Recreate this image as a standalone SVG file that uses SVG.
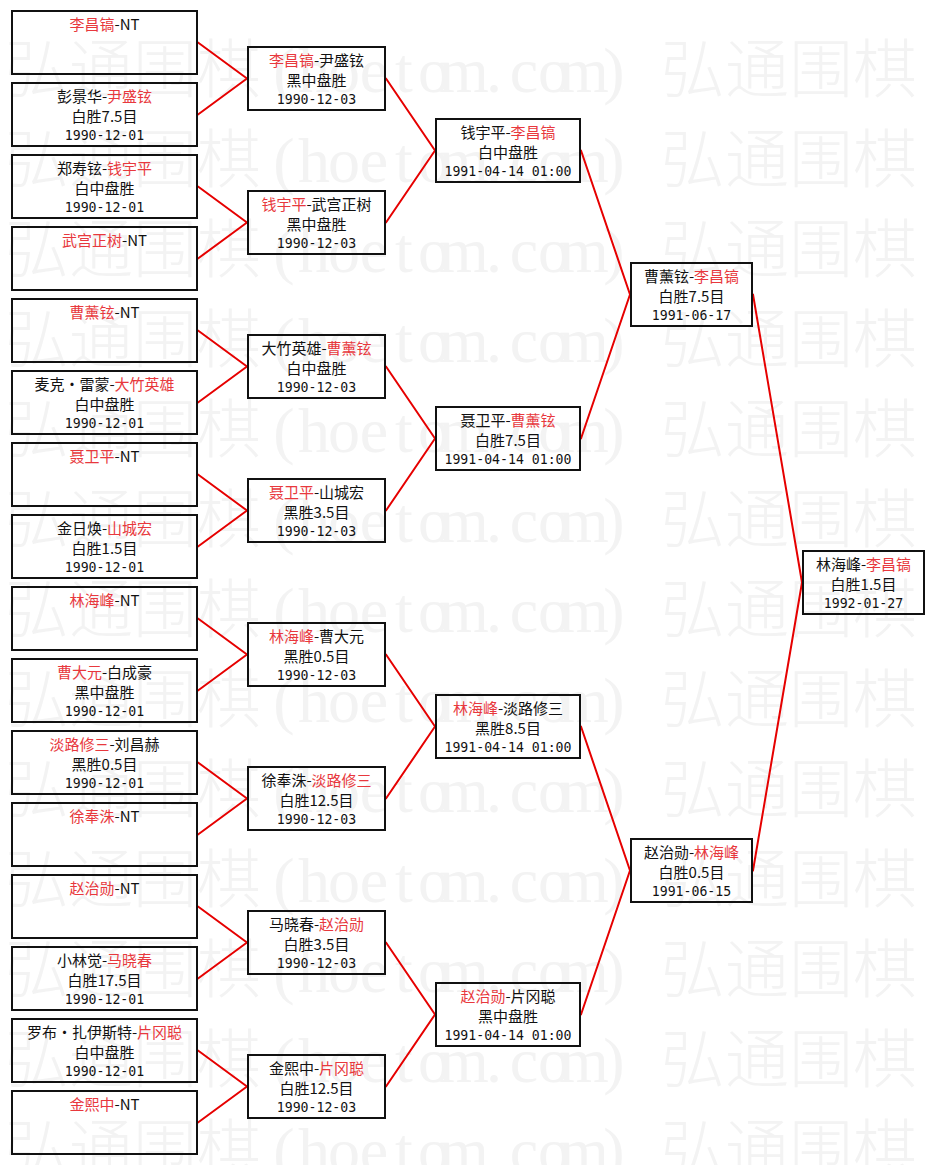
<svg xmlns="http://www.w3.org/2000/svg" xmlns:xlink="http://www.w3.org/1999/xlink" width="935" height="1165" viewBox="0 0 935 1165">
<style>
.bx{fill:none;stroke:#111;stroke-width:2}
.t{font-family:"Noto Sans CJK SC","Noto Sans",sans-serif;font-size:15px;fill:#111;text-anchor:middle}
.d{font-family:"DejaVu Sans Mono","Liberation Mono",monospace;font-size:13.2px;fill:#111;text-anchor:middle}
.r{fill:#e8383d}
.ln{stroke:#e60000;stroke-width:2;fill:none;stroke-linecap:round}
.wc{font-family:"Noto Sans CJK SC",sans-serif;font-size:64px;font-weight:300;fill:#f3f3f3;text-anchor:middle}
.wl{font-family:"Liberation Serif",serif;font-size:64px;fill:#f3f3f3;text-anchor:middle}
</style>
<defs>
<g id="wm">
<text class="wc" x="37 101 165 229 693 757 821 885" y="0">弘通围棋弘通围棋</text>
<text class="wl" x="284 314 344 374 404 434 464 494 524 554 584 614" y="0">(hoetom.com)</text>
</g>
</defs>
<rect x="0" y="0" width="935" height="1165" fill="#ffffff"/>
<g id="watermark">
<use xlink:href="#wm" y="92"/>
<use xlink:href="#wm" y="182"/>
<use xlink:href="#wm" y="272"/>
<use xlink:href="#wm" y="362"/>
<use xlink:href="#wm" y="452"/>
<use xlink:href="#wm" y="542"/>
<use xlink:href="#wm" y="632"/>
<use xlink:href="#wm" y="722"/>
<use xlink:href="#wm" y="812"/>
<use xlink:href="#wm" y="902"/>
<use xlink:href="#wm" y="992"/>
<use xlink:href="#wm" y="1082"/>
<use xlink:href="#wm" y="1172"/>
</g>
<g id="connectors">
<path class="ln" d="M198 42.5L247 78.5M198 114.5L247 78.5"/>
<path class="ln" d="M198 186.5L247 222.5M198 258.5L247 222.5"/>
<path class="ln" d="M198 330.5L247 366.5M198 402.5L247 366.5"/>
<path class="ln" d="M198 474.5L247 510.5M198 546.5L247 510.5"/>
<path class="ln" d="M198 618.5L247 654.5M198 690.5L247 654.5"/>
<path class="ln" d="M198 762.5L247 798.5M198 834.5L247 798.5"/>
<path class="ln" d="M198 906.5L247 942.5M198 978.5L247 942.5"/>
<path class="ln" d="M198 1050.5L247 1086.5M198 1122.5L247 1086.5"/>
<path class="ln" d="M386 78.5L435 150.5M386 222.5L435 150.5"/>
<path class="ln" d="M386 366.5L435 438.5M386 510.5L435 438.5"/>
<path class="ln" d="M386 654.5L435 726.5M386 798.5L435 726.5"/>
<path class="ln" d="M386 942.5L435 1014.5M386 1086.5L435 1014.5"/>
<path class="ln" d="M581 150.5L630 294.5M581 438.5L630 294.5"/>
<path class="ln" d="M581 726.5L630 870.5M581 1014.5L630 870.5"/>
<path class="ln" d="M753 294.5L802 582.5M753 870.5L802 582.5"/>
</g>
<g id="r1n1"><rect class="bx" x="12" y="11" width="185" height="63"/><text class="t" x="104.5" y="30"><tspan class="r">李昌镐</tspan>-NT</text></g>
<g id="r1n2"><rect class="bx" x="12" y="83" width="185" height="63"/><text class="t" x="104.5" y="102">彭景华-<tspan class="r">尹盛铉</tspan></text><text class="t" x="104.5" y="121.5">白胜7.5目</text><text class="d" x="104.5" y="140">1990-12-01</text></g>
<g id="r1n3"><rect class="bx" x="12" y="155" width="185" height="63"/><text class="t" x="104.5" y="174">郑寿铉-<tspan class="r">钱宇平</tspan></text><text class="t" x="104.5" y="193.5">白中盘胜</text><text class="d" x="104.5" y="212">1990-12-01</text></g>
<g id="r1n4"><rect class="bx" x="12" y="227" width="185" height="63"/><text class="t" x="104.5" y="246"><tspan class="r">武宫正树</tspan>-NT</text></g>
<g id="r1n5"><rect class="bx" x="12" y="299" width="185" height="63"/><text class="t" x="104.5" y="318"><tspan class="r">曹薰铉</tspan>-NT</text></g>
<g id="r1n6"><rect class="bx" x="12" y="371" width="185" height="63"/><text class="t" x="104.5" y="390">麦克·雷蒙-<tspan class="r">大竹英雄</tspan></text><text class="t" x="104.5" y="409.5">白中盘胜</text><text class="d" x="104.5" y="428">1990-12-01</text></g>
<g id="r1n7"><rect class="bx" x="12" y="443" width="185" height="63"/><text class="t" x="104.5" y="462"><tspan class="r">聂卫平</tspan>-NT</text></g>
<g id="r1n8"><rect class="bx" x="12" y="515" width="185" height="63"/><text class="t" x="104.5" y="534">金日焕-<tspan class="r">山城宏</tspan></text><text class="t" x="104.5" y="553.5">白胜1.5目</text><text class="d" x="104.5" y="572">1990-12-01</text></g>
<g id="r1n9"><rect class="bx" x="12" y="587" width="185" height="63"/><text class="t" x="104.5" y="606"><tspan class="r">林海峰</tspan>-NT</text></g>
<g id="r1n10"><rect class="bx" x="12" y="659" width="185" height="63"/><text class="t" x="104.5" y="678"><tspan class="r">曹大元</tspan>-白成豪</text><text class="t" x="104.5" y="697.5">黑中盘胜</text><text class="d" x="104.5" y="716">1990-12-01</text></g>
<g id="r1n11"><rect class="bx" x="12" y="731" width="185" height="63"/><text class="t" x="104.5" y="750"><tspan class="r">淡路修三</tspan>-刘昌赫</text><text class="t" x="104.5" y="769.5">黑胜0.5目</text><text class="d" x="104.5" y="788">1990-12-01</text></g>
<g id="r1n12"><rect class="bx" x="12" y="803" width="185" height="63"/><text class="t" x="104.5" y="822"><tspan class="r">徐奉洙</tspan>-NT</text></g>
<g id="r1n13"><rect class="bx" x="12" y="875" width="185" height="63"/><text class="t" x="104.5" y="894"><tspan class="r">赵治勋</tspan>-NT</text></g>
<g id="r1n14"><rect class="bx" x="12" y="947" width="185" height="63"/><text class="t" x="104.5" y="966">小林觉-<tspan class="r">马晓春</tspan></text><text class="t" x="104.5" y="985.5">白胜17.5目</text><text class="d" x="104.5" y="1004">1990-12-01</text></g>
<g id="r1n15"><rect class="bx" x="12" y="1019" width="185" height="63"/><text class="t" x="104.5" y="1038">罗布·扎伊斯特-<tspan class="r">片冈聪</tspan></text><text class="t" x="104.5" y="1057.5">白中盘胜</text><text class="d" x="104.5" y="1076">1990-12-01</text></g>
<g id="r1n16"><rect class="bx" x="12" y="1091" width="185" height="63"/><text class="t" x="104.5" y="1110"><tspan class="r">金熙中</tspan>-NT</text></g>
<g id="r2n1"><rect class="bx" x="248" y="47" width="137" height="63"/><text class="t" x="316.5" y="66"><tspan class="r">李昌镐</tspan>-尹盛铉</text><text class="t" x="316.5" y="85.5">黑中盘胜</text><text class="d" x="316.5" y="104">1990-12-03</text></g>
<g id="r2n2"><rect class="bx" x="248" y="191" width="137" height="63"/><text class="t" x="316.5" y="210"><tspan class="r">钱宇平</tspan>-武宫正树</text><text class="t" x="316.5" y="229.5">黑中盘胜</text><text class="d" x="316.5" y="248">1990-12-03</text></g>
<g id="r2n3"><rect class="bx" x="248" y="335" width="137" height="63"/><text class="t" x="316.5" y="354">大竹英雄-<tspan class="r">曹薰铉</tspan></text><text class="t" x="316.5" y="373.5">白中盘胜</text><text class="d" x="316.5" y="392">1990-12-03</text></g>
<g id="r2n4"><rect class="bx" x="248" y="479" width="137" height="63"/><text class="t" x="316.5" y="498"><tspan class="r">聂卫平</tspan>-山城宏</text><text class="t" x="316.5" y="517.5">黑胜3.5目</text><text class="d" x="316.5" y="536">1990-12-03</text></g>
<g id="r2n5"><rect class="bx" x="248" y="623" width="137" height="63"/><text class="t" x="316.5" y="642"><tspan class="r">林海峰</tspan>-曹大元</text><text class="t" x="316.5" y="661.5">黑胜0.5目</text><text class="d" x="316.5" y="680">1990-12-03</text></g>
<g id="r2n6"><rect class="bx" x="248" y="767" width="137" height="63"/><text class="t" x="316.5" y="786">徐奉洙-<tspan class="r">淡路修三</tspan></text><text class="t" x="316.5" y="805.5">白胜12.5目</text><text class="d" x="316.5" y="824">1990-12-03</text></g>
<g id="r2n7"><rect class="bx" x="248" y="911" width="137" height="63"/><text class="t" x="316.5" y="930">马晓春-<tspan class="r">赵治勋</tspan></text><text class="t" x="316.5" y="949.5">白胜3.5目</text><text class="d" x="316.5" y="968">1990-12-03</text></g>
<g id="r2n8"><rect class="bx" x="248" y="1055" width="137" height="63"/><text class="t" x="316.5" y="1074">金熙中-<tspan class="r">片冈聪</tspan></text><text class="t" x="316.5" y="1093.5">白胜12.5目</text><text class="d" x="316.5" y="1112">1990-12-03</text></g>
<g id="r3n1"><rect class="bx" x="436" y="119" width="144" height="63"/><text class="t" x="508" y="138">钱宇平-<tspan class="r">李昌镐</tspan></text><text class="t" x="508" y="157.5">白中盘胜</text><text class="d" x="508" y="176">1991-04-14 01:00</text></g>
<g id="r3n2"><rect class="bx" x="436" y="407" width="144" height="63"/><text class="t" x="508" y="426">聂卫平-<tspan class="r">曹薰铉</tspan></text><text class="t" x="508" y="445.5">白胜7.5目</text><text class="d" x="508" y="464">1991-04-14 01:00</text></g>
<g id="r3n3"><rect class="bx" x="436" y="695" width="144" height="63"/><text class="t" x="508" y="714"><tspan class="r">林海峰</tspan>-淡路修三</text><text class="t" x="508" y="733.5">黑胜8.5目</text><text class="d" x="508" y="752">1991-04-14 01:00</text></g>
<g id="r3n4"><rect class="bx" x="436" y="983" width="144" height="63"/><text class="t" x="508" y="1002"><tspan class="r">赵治勋</tspan>-片冈聪</text><text class="t" x="508" y="1021.5">黑中盘胜</text><text class="d" x="508" y="1040">1991-04-14 01:00</text></g>
<g id="r4n1"><rect class="bx" x="631" y="263" width="121" height="63"/><text class="t" x="691.5" y="282">曹薰铉-<tspan class="r">李昌镐</tspan></text><text class="t" x="691.5" y="301.5">白胜7.5目</text><text class="d" x="691.5" y="320">1991-06-17</text></g>
<g id="r4n2"><rect class="bx" x="631" y="839" width="121" height="63"/><text class="t" x="691.5" y="858">赵治勋-<tspan class="r">林海峰</tspan></text><text class="t" x="691.5" y="877.5">白胜0.5目</text><text class="d" x="691.5" y="896">1991-06-15</text></g>
<g id="r5n1"><rect class="bx" x="803" y="551" width="121" height="63"/><text class="t" x="863.5" y="570">林海峰-<tspan class="r">李昌镐</tspan></text><text class="t" x="863.5" y="589.5">白胜1.5目</text><text class="d" x="863.5" y="608">1992-01-27</text></g>
</svg>
